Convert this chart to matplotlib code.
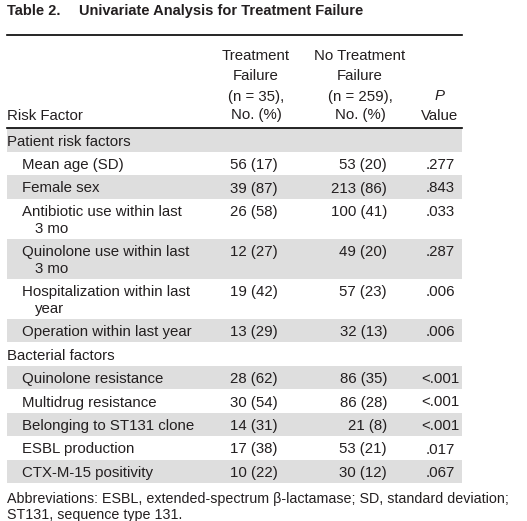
"""
Table 2 - univariate analysis for treatment failure, drawn as a table figure
"""

import matplotlib.pyplot as plt

# table content
groups = ['Patient risk factors', 'Bacterial factors']
group_rows = [
    ['Mean age (SD)', 'Female sex', 'Antibiotic use within last\n3 mo',
     'Quinolone use within last\n3 mo', 'Hospitalization within last\nyear',
     'Operation within last year'],
    ['Quinolone resistance', 'Multidrug resistance', 'Belonging to ST131 clone',
     'ESBL production', 'CTX-M-15 positivity'],
]
failure = [
    ['56 (17)', '39 (87)', '26 (58)', '12 (27)', '19 (42)', '13 (29)'],
    ['28 (62)', '30 (54)', '14 (31)', '17 (38)', '10 (22)'],
]
no_failure = [
    ['53 (20)', '213 (86)', '100 (41)', '49 (20)', '57 (23)', '32 (13)'],
    ['86 (35)', '86 (28)', '21 (8)', '53 (21)', '30 (12)'],
]
p_values = [
    ['.277', '.843', '.033', '.287', '.006', '.006'],
    ['<.001', '<.001', '<.001', '.017', '.067'],
]

title_num = 'Table 2.'
title_text = 'Univariate Analysis for Treatment Failure'
footnote = ['Abbreviations: ESBL, extended-spectrum \u03b2-lactamase; SD, standard deviation;',
            'ST131, sequence type 131.']

# look
txt_col = '#231f20'
band_col = '#dedede'
fs = 10.8
plt.rcParams['font.family'] = ['Liberation Sans', 'DejaVu Sans']

fig = plt.figure(figsize=(5.27, 5.21), dpi=100)
ax = fig.add_axes([0, 0, 1, 1])
ax.set_xlim(0, 527)
ax.set_ylim(521, 0)
ax.axis('off')

left, right = 7, 462
c1, c2, c3 = 278, 387, 440   # right edge, right edge, centre
dy = 1.5   # centre of glyphs sits a bit below bbox centre

# title
ax.text(left, 11, title_num, fontsize=10.5, fontweight='bold', color=txt_col, va='center')
ax.text(79, 11, title_text, fontsize=10.5, fontweight='bold', color=txt_col, va='center')

ax.plot([left, right], [35, 35], color='black', lw=1.2)

# header
head_y = [55, 75, 95, 114]
for y, t in zip(head_y, ['Treatment', 'Failure', '(n = 35),', 'No. (%)']):
    ax.text(256, y + dy, t, fontsize=fs, color=txt_col, ha='center', va='center')
for y, t in zip(head_y, ['No Treatment', 'Failure', '(n = 259),', 'No. (%)']):
    ax.text(360, y + dy, t, fontsize=fs, color=txt_col, ha='center', va='center')
ax.text(c3, 95 + dy, 'P', fontsize=fs, color=txt_col, ha='center', va='center', style='italic')
ax.text(c3, 114 + dy, 'Value', fontsize=fs, color=txt_col, ha='center', va='center')
ax.text(left, 114 + dy, 'Risk Factor', fontsize=fs, color=txt_col, va='center')

ax.plot([left, right], [127.5, 127.5], color='black', lw=1.2)

# body rows
y = 128
shade = True
for g, name in enumerate(groups):
    h = 23.5
    if shade:
        ax.fill_between([left, right], y, y + h, color=band_col, lw=0)
    ax.text(left, y + 12 + dy, name, fontsize=fs, color=txt_col, va='center')
    y += h
    shade = not shade
    for i, lab in enumerate(group_rows[g]):
        lines = lab.split('\n')
        h = 6 + 17 * len(lines)
        if len(lines) == 1:
            h += 0.5
        if shade:
            ax.fill_between([left, right], y, y + h, color=band_col, lw=0)
        for k, ln in enumerate(lines):
            ax.text(22 if k == 0 else 35, y + 12 + dy + 17 * k, ln, fontsize=fs,
                    color=txt_col, va='center')
        ax.text(c1, y + 12 + dy, failure[g][i], fontsize=fs, color=txt_col,
                ha='right', va='center')
        ax.text(c2, y + 12 + dy, no_failure[g][i], fontsize=fs, color=txt_col,
                ha='right', va='center')
        ax.text(c3, y + 12 + dy, p_values[g][i], fontsize=fs, color=txt_col,
                ha='center', va='center')
        y += h
        shade = not shade

# footnote
for k, ln in enumerate(footnote):
    ax.text(left, 497 + dy + 16 * k, ln, fontsize=10.3, color=txt_col, va='center')

fig.savefig('out.png', dpi=100)
